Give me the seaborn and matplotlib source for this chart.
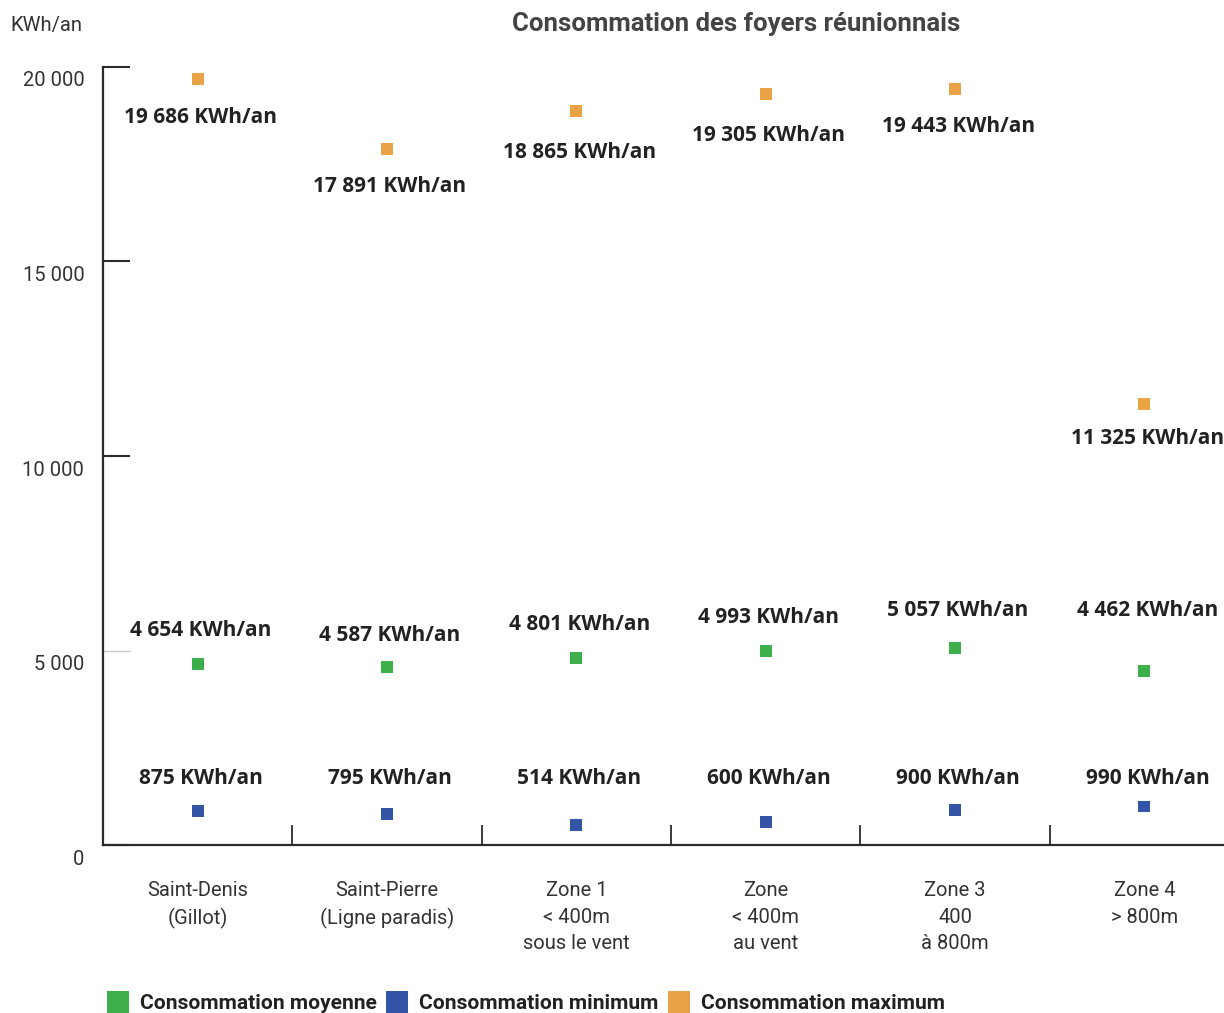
import pandas as pd
import numpy as np
import matplotlib
matplotlib.use('Agg')
import matplotlib.pyplot as plt
from matplotlib.lines import Line2D
from matplotlib.transforms import ScaledTranslation
import seaborn as sns

# ---- données ----
categories = ['Saint-Denis\n(Gillot)', 'Saint-Pierre\n(Ligne paradis)',
              'Zone 1\n< 400m\nsous le vent', 'Zone\n< 400m\nau vent',
              'Zone 3\n400\nà 800m', 'Zone 4\n> 800m']
moyenne = [4654, 4587, 4801, 4993, 5057, 4462]
minimum = [875, 795, 514, 600, 900, 990]
maximum = [19686, 17891, 18865, 19305, 19443, 11325]
series_names = ['Consommation moyenne', 'Consommation minimum', 'Consommation maximum']
colors = ['#3DAF4B', '#3455A5', '#E9A245']
yticks = [0, 5000, 10000, 15000, 20000]
ytick_labels = ['0', '5 000', '10 000', '15 000', '20 000']

df = pd.DataFrame({
    'Zone': categories * 3,
    'Valeur': moyenne + minimum + maximum,
    'Serie': [s for s in series_names for _ in categories],
})
df['pos'] = list(range(len(categories))) * 3

sns.set_style('white')
plt.rcParams['font.family'] = ['Roboto', 'DejaVu Sans']
TXT = '#333333'

W, H = 1224, 1013
fig = plt.figure(figsize=(W / 100, H / 100), dpi=100)
ax = fig.add_axes([103 / W, (H - 845) / H, (W - 103) / W, (845 - 67) / H])

sns.scatterplot(data=df, x='pos', y='Valeur', hue='Serie', hue_order=series_names,
                palette=colors, marker='s', s=74, linewidth=0, legend=False, ax=ax,
                zorder=3)

ax.set_xlim(-0.5, 5.42)
ax.set_ylim(0, 20000)
ax.set_xlabel('')
ax.set_ylabel('')

# axes
for sp in ['top', 'right']:
    ax.spines[sp].set_visible(False)
for sp in ['left', 'bottom']:
    ax.spines[sp].set_color('#2b2b2b')
    ax.spines[sp].set_linewidth(1.6)

ax.set_yticks(yticks)
ax.set_yticklabels(ytick_labels, fontsize=14.5, color=TXT)
ax.tick_params(axis='y', left=True, direction='in', length=19.5, width=1.5,
               color='#2b2b2b', pad=13.5)
tick5k = ax.yaxis.get_major_ticks()[1].tick1line
tick5k.set_markeredgecolor('#c8c8c8')
tick5k.set_markeredgewidth(1)
off = ScaledTranslation(0, -0.12, fig.dpi_scale_trans)
for lab in ax.get_yticklabels():
    lab.set_transform(lab.get_transform() + off)

ax.set_xticks(range(len(categories)))
ax.set_xticklabels(categories, fontsize=14.5, color=TXT, linespacing=1.5)
ax.tick_params(axis='x', which='major', bottom=True, length=0, pad=26)
ax.set_xticks(np.arange(0.5, len(categories) - 1, 1), minor=True)
ax.tick_params(axis='x', which='minor', bottom=True, direction='in', length=14.5,
               width=1.3, color='#2b2b2b')

# étiquettes de valeurs
def fmt(v):
    return f"{v:,}".replace(',', ' ') + ' KWh/an'

lab_font = dict(fontsize=15, fontweight='bold', color='#222222',
                family=['Open Sans', 'DejaVu Sans'], ha='center', va='center')
max_off = [-38, -37, -41, -41, -38, -34]
moy_off = [33, 31, 34, 33, 38, 61]
for i in range(len(categories)):
    ax.annotate(fmt(maximum[i]), (i, maximum[i]), xytext=(3, max_off[i]),
                textcoords='offset pixels', **lab_font)
    ax.annotate(fmt(moyenne[i]), (i, moyenne[i]), xytext=(3, moy_off[i]),
                textcoords='offset pixels', **lab_font)
    # les étiquettes du minimum sont alignées sur une même ligne
    ax.annotate(fmt(minimum[i]), (i, 1720), xytext=(3, 0),
                textcoords='offset pixels', **lab_font)

# titre et unité
fig.text(736 / W, 1 - 24 / H, 'Consommation des foyers réunionnais', fontsize=18.5,
         fontweight='bold', color='#444444', ha='center', va='center')
fig.text(10 / W, 1 - 25 / H, 'KWh/an', fontsize=14.5, color=TXT, ha='left', va='center')

# légende
handles = [Line2D([], [], marker='s', linestyle='', markersize=16.5,
                  markerfacecolor=c, markeredgewidth=0) for c in colors]
fig.legend(handles, series_names, loc='lower left', bbox_to_anchor=(106 / W, 0),
           ncol=3, frameon=False, borderpad=0, borderaxespad=0,
           handlelength=1.1, handletextpad=0.5, columnspacing=0.42,
           prop={'family': 'Roboto', 'weight': 'bold', 'size': 15.1})
for t in fig.legends[0].get_texts():
    t.set_color('#222222')

fig.savefig('out.png', dpi=100)
